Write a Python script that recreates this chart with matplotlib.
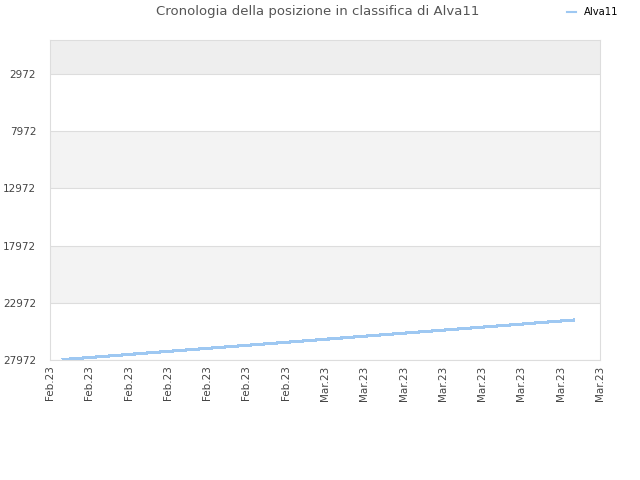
import datetime as dt
import matplotlib
matplotlib.use("Agg")
import matplotlib.pyplot as plt
import matplotlib.dates as mdates

# daily rank values
start = dt.date(2023, 2, 11)
ranks = [27930, 27842, 27753, 27665, 27576, 27488, 27399, 27311, 27222, 27134,
         27045, 26957, 26868, 26780, 26691, 26603, 26514, 26426, 26337, 26249,
         26160, 26072, 25983, 25895, 25806, 25718, 25629, 25541, 25452, 25364,
         25275, 25187, 25098, 25010, 24921, 24833, 24744, 24656, 24567, 24480]
days = [start + dt.timedelta(days=i) for i in range(len(ranks))]

yticks = [2972, 7972, 12972, 17972, 22972, 27972]
xticks = [dt.date(2023, 2, 10) + dt.timedelta(days=3 * i) for i in range(15)]

fig = plt.figure(figsize=(6.4, 4.8), dpi=100)
ax = fig.add_axes([50 / 640, 1 - 360 / 480, 550 / 640, 320 / 480])

# alternating bands
ax.axhspan(0, yticks[0], color="#eeeeee", zorder=0, lw=0)
for lo, hi in [(yticks[1], yticks[2]), (yticks[3], yticks[4])]:
    ax.axhspan(lo, hi, color="#f3f3f3", zorder=0, lw=0)

ax.plot(days, ranks, color="#9ec8f2", lw=1.5, antialiased=False, label="Alva11", zorder=3)

ax.set_ylim(yticks[-1], 0)
ax.set_yticks(yticks)
ax.set_yticklabels([str(v) for v in yticks])
ax.set_xlim(xticks[0], xticks[-1])
ax.set_xticks(xticks)
ax.xaxis.set_major_formatter(mdates.DateFormatter("%b.%y"))
ax.grid(axis="y", color="#dddddd", lw=0.8, zorder=1)
ax.tick_params(length=0, labelsize=7.5, colors="#444444")
ax.tick_params(axis="x", rotation=90, pad=4)
ax.tick_params(axis="y", pad=10)
for s in ax.spines.values():
    s.set_color("#dddddd")

fig.text(318 / 640, 1 - 12 / 480, "Cronologia della posizione in classifica di Alva11",
         ha="center", va="center", fontsize=9.5, color="#555555")
fig.legend(loc="upper right", bbox_to_anchor=(0.978, 1.0), frameon=False, fontsize=7.2,
           handlelength=0.9, handletextpad=0.8, borderaxespad=0.3)

fig.savefig("out.png", dpi=100)
